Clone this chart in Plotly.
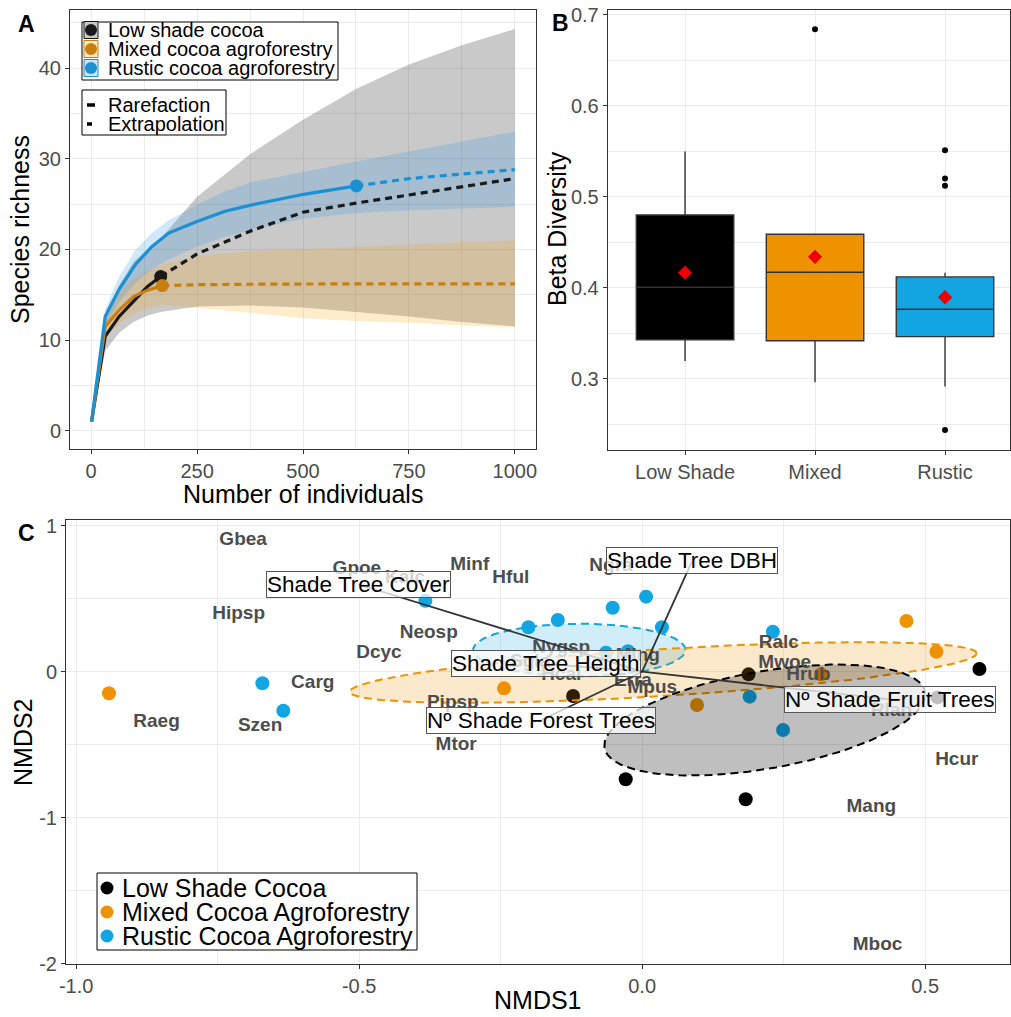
import numpy as np
import plotly.graph_objects as go

W, H = 1011, 1017
FONT = "Liberation Sans, Arial, sans-serif"


def fx(p):
    return p / W


def fy(p):
    return 1 - p / H


# ---------------- Panel A : rarefaction / extrapolation ----------------
groups_a = ["Low shade cocoa", "Mixed cocoa agroforestry", "Rustic cocoa agroforestry"]
linetypes_a = ["Rarefaction", "Extrapolation"]

low_m_obs = [1, 33, 66, 100, 133, 164]
low_s_obs = [1, 10.4, 12.6, 14.3, 15.9, 17.0]
low_m_ext = [164, 250, 375, 500, 625, 750, 875, 1000]
low_s_ext = [17.0, 19.5, 22.0, 24.1, 25.1, 26.0, 26.9, 27.8]
low_ci_m = [1, 33, 66, 100, 133, 164, 250, 375, 500, 625, 750, 875, 1000]
low_ci_hi = [1, 12.2, 16.0, 18.6, 20.0, 21.2, 25.8, 30.5, 34.3, 37.7, 40.4, 42.5, 44.3]
low_ci_lo = [1, 8.8, 10.8, 12.0, 12.7, 13.1, 13.7, 13.8, 13.6, 13.1, 12.6, 12.0, 11.5]

mix_m_obs = [1, 33, 66, 100, 133, 168]
mix_s_obs = [1, 11.5, 13.3, 14.8, 15.5, 16.0]
mix_m_ext = [168, 250, 375, 500, 625, 750, 875, 1000]
mix_s_ext = [16.0, 16.1, 16.15, 16.2, 16.2, 16.2, 16.2, 16.2]
mix_ci_m = [1, 33, 66, 100, 133, 168, 250, 375, 500, 625, 750, 875, 1000]
mix_ci_hi = [1, 12.8, 15.2, 16.7, 17.6, 18.3, 19.3, 19.8, 20.0, 20.3, 20.5, 20.8, 21.0]
mix_ci_lo = [1, 10.2, 11.8, 12.9, 13.5, 13.9, 13.5, 13.0, 12.4, 12.1, 11.9, 11.6, 11.4]

rus_m_obs = [1, 33, 66, 104, 143, 183, 245, 316, 379, 505, 626]
rus_s_obs = [1, 12.6, 15.6, 18.3, 20.3, 21.8, 23.0, 24.2, 24.9, 26.1, 27.0]
rus_m_ext = [626, 750, 875, 1000]
rus_s_ext = [27.0, 27.8, 28.3, 28.8]
rus_ci_m = [1, 33, 66, 104, 143, 183, 245, 316, 379, 505, 626, 750, 875, 1000]
rus_ci_hi = [1, 13.4, 17.0, 19.9, 21.8, 23.2, 24.8, 26.4, 27.4, 28.6, 29.7, 30.8, 31.9, 33.0]
rus_ci_lo = [1, 11.6, 14.2, 16.3, 17.8, 18.9, 20.2, 21.4, 22.2, 23.4, 24.0, 24.3, 24.5, 24.7]

# ---------------- Panel B : beta diversity boxplots ----------------
b_cats = ["Low Shade", "Mixed", "Rustic"]
b_q1 = [0.343, 0.342, 0.3465]
b_med = [0.4007, 0.4171, 0.3765]
b_q3 = [0.480, 0.4589, 0.412]
b_lo = [0.3198, 0.2964, 0.2916]
b_hi = [0.5496, 0.4589, 0.4167]
b_mean = [0.4167, 0.434, 0.3897]
b_out_cat = ["Mixed", "Rustic", "Rustic", "Rustic", "Rustic"]
b_out_val = [0.684, 0.551, 0.520, 0.512, 0.244]

# ---------------- Panel C : NMDS ----------------
c_groups = ["Low Shade Cocoa", "Mixed Cocoa Agroforestry", "Rustic Cocoa Agroforestry"]
low_x = [-0.122, 0.188, 0.596, -0.029, 0.183, 0.522]
low_y = [-0.166, -0.018, 0.018, -0.737, -0.874, -0.176]
mix_x = [-0.942, -0.244, 0.097, 0.467, 0.520, 0.316]
mix_y = [-0.148, -0.114, -0.228, 0.347, 0.137, -0.018]
rus_x = [-0.383, -0.201, -0.149, -0.052, 0.007, 0.035, 0.231, 0.190, 0.249,
         -0.064, -0.025, -0.671, -0.634]
rus_y = [0.486, 0.304, 0.354, 0.438, 0.514, 0.304, 0.274, -0.171, -0.399,
         0.130, 0.140, -0.079, -0.267]

ell_center = {"low": (0.2168, -0.331), "mix": (0.0373, -0.0055), "rus": (-0.111, 0.1486)}
ell_cov = {"low": [[0.0804, 0.0494], [0.0494, 0.1445]],
           "mix": [[0.3066, 0.0728], [0.0728, 0.0432]],
           "rus": [[0.0352, 0.0], [0.0, 0.0325]]}

species = ["Gbea", "Gpoe", "Kalc", "Minf", "Hful", "Ngra", "Hipsp", "Neosp", "Dcyc",
           "Carg", "Raeg", "Szen", "Pipsp", "Mtor", "Nygsp", "Sgla", "Hcal", "Ming",
           "Erra", "Mpus", "Ralc", "Mwoe", "Hrub", "Rlan", "Hcur", "Mang", "Mboc"]
sp_x = [-0.705, -0.504, -0.419, -0.3045, -0.232, -0.055, -0.713, -0.377, -0.465,
        -0.582, -0.858, -0.675, -0.3345, -0.3286, -0.143, -0.198, -0.143, -0.0076,
        -0.0163, 0.018, 0.2415, 0.252, 0.2937, 0.4406, 0.556, 0.405, 0.416]
sp_y = [0.902, 0.703, 0.642, 0.731, 0.640, 0.719, 0.395, 0.263, 0.126,
        -0.079, -0.347, -0.377, -0.216, -0.507, 0.160, 0.066, -0.023, 0.107,
        -0.064, -0.114, 0.197, 0.060, -0.023, -0.274, -0.604, -0.925, -1.872]

vec_names = ["Shade Tree Cover", "Shade Tree DBH", "Shade Tree Heigth",
             "Nº Shade Forest Trees", "Nº Shade Fruit Trees"]
vec_x = [-0.502, 0.0887, -0.170, -0.178, 0.4376]
vec_y = [0.599, 0.760, 0.053, -0.331, -0.189]

# ---------------- colours ----------------
BLACK = "#000000"
ORANGE = "#EE9200"
BLUE = "#12A5E2"
line_cols_a = ["#1a1a1a", "#C97E10", "#1B90D3"]
band_cols_a = ["rgba(0,0,0,0.21)", "rgba(255,160,0,0.2)", "rgba(40,150,230,0.22)"]
key_fill_a = ["#C8C8C8", "#FFE9C8", "#CFE4F6"]

fig = go.Figure()

# ----- Panel A traces -----
bands = [(low_ci_m, low_ci_hi, low_ci_lo), (mix_ci_m, mix_ci_hi, mix_ci_lo),
         (rus_ci_m, rus_ci_hi, rus_ci_lo)]
for (m, hi, lo), col in zip(bands, band_cols_a):
    fig.add_trace(go.Scatter(x=list(m) + list(m)[::-1], y=list(hi) + list(lo)[::-1],
                             fill="toself", fillcolor=col, mode="lines",
                             line=dict(width=0), hoverinfo="skip", showlegend=False,
                             xaxis="x", yaxis="y"))

curves = [(low_m_obs, low_s_obs, low_m_ext, low_s_ext),
          (mix_m_obs, mix_s_obs, mix_m_ext, mix_s_ext),
          (rus_m_obs, rus_s_obs, rus_m_ext, rus_s_ext)]
for (mo, so, me, se), col, name in zip(curves, line_cols_a, groups_a):
    fig.add_trace(go.Scatter(x=me, y=se, mode="lines", line=dict(color=col, width=3.2, dash="7px,5px"),
                             showlegend=False, name=name, xaxis="x", yaxis="y"))
    fig.add_trace(go.Scatter(x=mo, y=so, mode="lines", line=dict(color=col, width=3.2),
                             showlegend=False, name=name, xaxis="x", yaxis="y"))
    fig.add_trace(go.Scatter(x=[mo[-1]], y=[so[-1]], mode="markers",
                             marker=dict(color=col, size=13), showlegend=False,
                             xaxis="x", yaxis="y"))

# ----- Panel B traces -----
box_fills = [BLACK, ORANGE, BLUE]
for i, cat in enumerate(b_cats):
    fig.add_trace(go.Box(x=[cat], q1=[b_q1[i]], median=[b_med[i]], q3=[b_q3[i]],
                         lowerfence=[b_lo[i]], upperfence=[b_hi[i]],
                         fillcolor=box_fills[i], line=dict(color="#333333", width=1.4),
                         width=0.75, whiskerwidth=0, boxpoints=False, showlegend=False,
                         hoverinfo="skip", xaxis="x2", yaxis="y2"))
fig.add_trace(go.Scatter(x=b_out_cat, y=b_out_val, mode="markers",
                         marker=dict(color="black", size=6), showlegend=False,
                         xaxis="x2", yaxis="y2"))
fig.add_trace(go.Scatter(x=b_cats, y=b_mean, mode="markers",
                         marker=dict(color="#EE0000", size=11, symbol="diamond"),
                         showlegend=False, xaxis="x2", yaxis="y2"))

# ----- Panel C traces -----
for xs, ys, col in [(low_x, low_y, BLACK), (mix_x, mix_y, ORANGE), (rus_x, rus_y, BLUE)]:
    fig.add_trace(go.Scatter(x=xs, y=ys, mode="markers", marker=dict(color=col, size=14),
                             showlegend=False, xaxis="x3", yaxis="y3"))

t = np.linspace(0, 2 * np.pi, 181)
ell_style = {"rus": ("rgba(18,165,226,0.2)", BLUE),
             "mix": ("rgba(238,146,0,0.2)", ORANGE),
             "low": ("rgba(0,0,0,0.25)", BLACK)}
for key in ["rus", "mix", "low"]:
    L = np.linalg.cholesky(np.array(ell_cov[key]))
    pts = (L @ np.vstack([np.cos(t), np.sin(t)])).T + np.array(ell_center[key])
    fcol, lcol = ell_style[key]
    fig.add_trace(go.Scatter(x=pts[:, 0], y=pts[:, 1], mode="lines", fill="toself",
                             fillcolor=fcol, line=dict(color=lcol, width=2, dash="8px,5px"),
                             showlegend=False, hoverinfo="skip", xaxis="x3", yaxis="y3"))

fig.add_trace(go.Scatter(x=sp_x, y=sp_y, mode="text", text=species,
                         textfont=dict(size=19, color="#4D4D4D", family=FONT, weight="bold"),
                         showlegend=False, hoverinfo="skip", xaxis="x3", yaxis="y3"))

seg_x, seg_y = [], []
for vx, vy in zip(vec_x, vec_y):
    seg_x += [0, vx, None]
    seg_y += [0, vy, None]
fig.add_trace(go.Scatter(x=seg_x, y=seg_y, mode="lines", line=dict(color="#333333", width=1.8),
                         showlegend=False, hoverinfo="skip", xaxis="x3", yaxis="y3"))

# ---------------- annotations & shapes ----------------
annotations = []
shapes = []


def ann(x, y, s, size, color="black", xanchor="center", yanchor="middle", **kw):
    d = dict(xref="paper", yref="paper", x=fx(x), y=fy(y), text=s, showarrow=False,
             xanchor=xanchor, yanchor=yanchor,
             font=dict(size=size, color=color, family=FONT))
    d.update(kw)
    annotations.append(d)


def rect(x0, y0, x1, y1, lc="black", fill="white", w=1):
    shapes.append(dict(type="rect", xref="paper", yref="paper", x0=fx(x0), x1=fx(x1),
                       y0=fy(y1), y1=fy(y0), line=dict(color=lc, width=w), fillcolor=fill,
                       layer="above"))


def dot(cx, cy, d, color):
    shapes.append(dict(type="circle", xref="paper", yref="paper", xsizemode="pixel",
                       ysizemode="pixel", xanchor=fx(cx), yanchor=fy(cy), x0=-d / 2, x1=d / 2,
                       y0=-d / 2, y1=d / 2, fillcolor=color, line=dict(width=0), layer="above"))


def hline(x0, x1, y, w):
    shapes.append(dict(type="line", xref="paper", yref="paper", x0=fx(x0), x1=fx(x1),
                       y0=fy(y), y1=fy(y), line=dict(color="black", width=w), layer="above"))


# panel letters
ann(26, 24, "<b>A</b>", 23)
ann(560, 23, "<b>B</b>", 23)
ann(26, 533, "<b>C</b>", 23)

# axis titles
ann(20, 230, "Species richness", 25, textangle=-90)
ann(303, 494, "Number of individuals", 25)
ann(557, 229, "Beta Diversity", 25, textangle=-90)
ann(23, 742, "NMDS2", 25, textangle=-90)
ann(538, 1000, "NMDS1", 25)

# Panel A legend: groups
rect(82, 22, 338, 80)
rows_a = [30, 49, 68]
for name, lc, kf, ry in zip(groups_a, line_cols_a, key_fill_a, rows_a):
    rect(84, ry - 8.5, 98, ry + 8.5, lc=lc, fill=kf, w=1)
    dot(91, ry, 12, lc)
    ann(106, ry, name, 20, xanchor="left")

# Panel A legend: line types
rect(82, 90, 226, 135)
hline(87, 95, 105, 3.5)
hline(87, 92, 124, 3.5)
ann(106, 105, linetypes_a[0], 20, xanchor="left")
ann(106, 124, linetypes_a[1], 20, xanchor="left")

# Panel C legend
rect(97, 873, 417, 950)
rows_c = [888, 912, 936]
for name, col, ry in zip(c_groups, [BLACK, ORANGE, BLUE], rows_c):
    dot(107, ry, 13, col)
    ann(120, ry, name, 25, xanchor="left")

# vector labels
for name, vx, vy in zip(vec_names, vec_x, vec_y):
    annotations.append(dict(xref="x3", yref="y3", x=vx, y=vy, text=name, showarrow=False,
                            xanchor="center", yanchor="middle",
                            font=dict(size=22.5, color="black", family=FONT),
                            bgcolor="rgba(255,255,255,0.75)", bordercolor="#555555",
                            borderwidth=1, borderpad=0))

# ---------------- axes ----------------
GRID = "#EBEBEB"
common = dict(showline=True, mirror=True, linecolor="#333333", linewidth=1,
              ticks="outside", ticklen=4, tickcolor="#333333", tickwidth=1,
              tickfont=dict(size=20, color="#4D4D4D", family=FONT),
              showgrid=True, gridcolor=GRID, gridwidth=1.1, zeroline=False,
              automargin=False)


def minor(vals):
    return dict(tickvals=vals, showgrid=True, gridcolor=GRID, gridwidth=0.6, ticks="")


fig.update_layout(
    width=W, height=H, margin=dict(l=0, r=0, t=0, b=0, autoexpand=False), autosize=False,
    plot_bgcolor="white", paper_bgcolor="white", showlegend=False,
    font=dict(family=FONT),
    xaxis=dict(common, domain=[fx(70), fx(536)], range=[-50, 1050],
               tickvals=[0, 250, 500, 750, 1000], minor=minor([125, 375, 625, 875]), anchor="y"),
    yaxis=dict(common, domain=[fy(449), fy(10)], range=[-2.02, 46.4],
               tickvals=[0, 10, 20, 30, 40], minor=minor([5, 15, 25, 35, 45]), anchor="x"),
    xaxis2=dict(common, domain=[fx(607.7), fx(1010)], type="category",
                categoryorder="array", categoryarray=b_cats, range=[-0.595, 2.5], anchor="y2"),
    yaxis2=dict(common, domain=[fy(450), fy(10)], range=[0.222, 0.705],
                tickvals=[0.3, 0.4, 0.5, 0.6, 0.7], ticktext=["0.3", "0.4", "0.5", "0.6", "0.7"],
                minor=minor([0.25, 0.35, 0.45, 0.55, 0.65]), anchor="x2"),
    xaxis3=dict(common, domain=[fx(66), fx(1010)], range=[-1.018, 0.65],
                tickvals=[-1.0, -0.5, 0.0, 0.5], ticktext=["-1.0", "-0.5", "0.0", "0.5"],
                minor=minor([-0.75, -0.25, 0.25]), anchor="y3"),
    yaxis3=dict(common, domain=[fy(964), fy(520)], range=[-2.002, 1.039],
                tickvals=[-2, -1, 0, 1], ticktext=["-2", "-1", "0", "1"],
                minor=minor([-1.5, -0.5, 0.5]), anchor="x3"),
    annotations=annotations,
    shapes=shapes,
)

fig.write_html("out.html", config={"displayModeBar": False})

# remove the browser's default page margin so the figure sits at the window origin
with open("out.html", "r", encoding="utf-8") as f:
    html = f.read()
html = html.replace("<head>", "<head><style>html,body{margin:0;padding:0;overflow:hidden;}</style>", 1)
with open("out.html", "w", encoding="utf-8") as f:
    f.write(html)
